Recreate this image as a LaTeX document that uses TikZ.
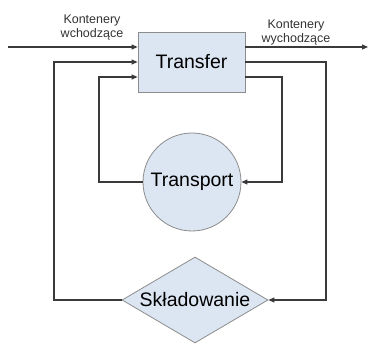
\documentclass[tikz,border=0pt]{standalone}
\usepackage{fontspec}
\setmainfont{Liberation Sans}
\usetikzlibrary{arrows, arrows.meta}
\usetikzlibrary{shapes.geometric}
\definecolor{boxfill}{HTML}{DCE6F2}
\definecolor{boxline}{HTML}{8C8C8C}
\definecolor{flowline}{HTML}{3A3A3A}
\tikzset{
  proc/.style={draw=boxline, fill=boxfill, line width=0.8pt, inner sep=0pt, font=\fontsize{19.5}{22}\selectfont},
  flow/.style={draw=flowline, line width=1.1pt, -{Triangle[length=6pt,width=5pt]}},
  lbl/.style={align=center, font=\fontsize{12.5}{14}\selectfont, text=black!80}
}

\begin{document}
\begin{tikzpicture}[x=1pt,y=-1pt]
      \useasboundingbox (0,0) rectangle (369,344);
      \node[proc, rectangle, minimum width=107pt, minimum height=60pt] (transfer) at (191.5,62) {Transfer};
      \node[proc, circle, minimum size=98pt] (transport) at (192,182) {Transport};
      \node[proc, diamond, aspect=1.7, minimum width=146pt, minimum height=86pt] (store) at (195,300) {Składowanie};
      % wejscie i wyjscie
      \coordinate (in) at (8,47);
      \coordinate (out) at (368,47);
      \draw[flow] (in) -- ([yshift=15pt]transfer.west);
      \draw[flow] ([yshift=15pt]transfer.east) -- (out);
      \node[lbl] (lin) at (92,28) {Kontenery\\wchodzące};
      \node[lbl] (lout) at (296,33) {Kontenery\\wychodzące};
      % petle
      \coordinate (r1) at (326,62);
      \coordinate (r2) at (282,77);
      \coordinate (l1) at (54,62);
      \coordinate (l2) at (99,77);
      \draw[flow] (transfer.east) -- (r1) |- (store.east);
      \draw[flow] ([yshift=-15pt]transfer.east) -- (r2) |- (transport.east);
      \draw[flow] (store.west) -| (l1) -- (transfer.west);
      \draw[flow] (transport.west) -| (l2) -- ([yshift=-15pt]transfer.west);
\end{tikzpicture}
\end{document}
